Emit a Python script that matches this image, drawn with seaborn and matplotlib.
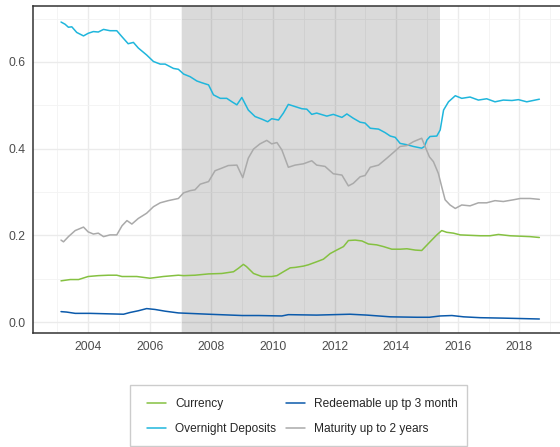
import numpy as np
import pandas as pd
import matplotlib.pyplot as plt
import seaborn as sns
from matplotlib.patches import Rectangle

# shares of monetary aggregate components
series_names = ['Currency', 'Overnight Deposits',
                'Redeemable up tp 3 month', 'Maturity up to 2 years']

overnight_x = [2003.12, 2003.25, 2003.36, 2003.47, 2003.63, 2003.85, 2004.00, 2004.17,
               2004.33, 2004.50, 2004.71, 2004.93, 2005.10, 2005.30, 2005.47, 2005.63,
               2005.90, 2006.12, 2006.34, 2006.50, 2006.77, 2006.93, 2007.10, 2007.31,
               2007.53, 2007.69, 2007.91, 2008.07, 2008.29, 2008.50, 2008.67, 2008.83,
               2008.99, 2009.20, 2009.42, 2009.64, 2009.83, 2009.96, 2010.18, 2010.34,
               2010.50, 2010.72, 2010.94, 2011.10, 2011.26, 2011.42, 2011.75, 2011.96,
               2012.24, 2012.40, 2012.61, 2012.83, 2012.99, 2013.16, 2013.43, 2013.64,
               2013.81, 2013.97, 2014.13, 2014.35, 2014.56, 2014.83, 2014.92, 2015.00,
               2015.10, 2015.32, 2015.43, 2015.54, 2015.70, 2015.92, 2016.13, 2016.40,
               2016.67, 2016.94, 2017.21, 2017.48, 2017.76, 2017.97, 2018.24, 2018.65]
overnight_y = [0.692, 0.687, 0.680, 0.681, 0.668, 0.660, 0.666, 0.670,
               0.669, 0.675, 0.672, 0.672, 0.658, 0.642, 0.645, 0.632,
               0.616, 0.601, 0.595, 0.595, 0.585, 0.583, 0.572, 0.566,
               0.556, 0.552, 0.547, 0.524, 0.516, 0.516, 0.508, 0.501,
               0.518, 0.489, 0.474, 0.468, 0.462, 0.469, 0.466, 0.482,
               0.502, 0.497, 0.492, 0.491, 0.479, 0.482, 0.475, 0.479,
               0.472, 0.480, 0.470, 0.461, 0.459, 0.447, 0.445, 0.437,
               0.429, 0.426, 0.412, 0.409, 0.405, 0.401, 0.405, 0.420,
               0.428, 0.429, 0.443, 0.489, 0.508, 0.522, 0.516, 0.519,
               0.512, 0.515, 0.508, 0.512, 0.511, 0.513, 0.508, 0.514]

maturity_x = [2003.12, 2003.20, 2003.36, 2003.58, 2003.85, 2004.00, 2004.17, 2004.33,
              2004.50, 2004.71, 2004.93, 2005.10, 2005.26, 2005.42, 2005.63, 2005.90,
              2006.12, 2006.34, 2006.60, 2006.93, 2007.10, 2007.31, 2007.47, 2007.64,
              2007.91, 2008.12, 2008.34, 2008.55, 2008.83, 2009.02, 2009.20, 2009.37,
              2009.58, 2009.80, 2009.96, 2010.13, 2010.29, 2010.50, 2010.72, 2010.99,
              2011.26, 2011.42, 2011.69, 2011.96, 2012.24, 2012.45, 2012.61, 2012.83,
              2012.99, 2013.16, 2013.43, 2013.70, 2013.91, 2014.13, 2014.35, 2014.56,
              2014.83, 2014.94, 2015.08, 2015.21, 2015.37, 2015.48, 2015.59, 2015.75,
              2015.92, 2016.13, 2016.40, 2016.67, 2016.94, 2017.21, 2017.48, 2017.81,
              2018.03, 2018.35, 2018.65]
maturity_y = [0.189, 0.185, 0.197, 0.211, 0.219, 0.208, 0.203, 0.205,
              0.197, 0.201, 0.201, 0.222, 0.234, 0.226, 0.239, 0.251,
              0.266, 0.275, 0.280, 0.285, 0.298, 0.303, 0.305, 0.318,
              0.324, 0.349, 0.355, 0.361, 0.362, 0.333, 0.378, 0.399,
              0.411, 0.419, 0.411, 0.414, 0.397, 0.357, 0.362, 0.365,
              0.372, 0.362, 0.359, 0.342, 0.339, 0.314, 0.320, 0.335,
              0.338, 0.357, 0.362, 0.378, 0.391, 0.405, 0.407, 0.416,
              0.424, 0.405, 0.381, 0.370, 0.343, 0.312, 0.282, 0.270,
              0.262, 0.270, 0.268, 0.275, 0.275, 0.280, 0.278, 0.282,
              0.285, 0.285, 0.283]

currency_x = [2003.12, 2003.42, 2003.69, 2004.00, 2004.33, 2004.66, 2004.93, 2005.10,
              2005.58, 2006.01, 2006.44, 2006.93, 2007.10, 2007.47, 2007.91, 2008.34,
              2008.72, 2008.88, 2009.04, 2009.14, 2009.37, 2009.64, 2009.96, 2010.13,
              2010.34, 2010.56, 2010.72, 2010.99, 2011.15, 2011.42, 2011.64, 2011.86,
              2012.07, 2012.29, 2012.45, 2012.67, 2012.89, 2013.10, 2013.37, 2013.59,
              2013.86, 2014.13, 2014.35, 2014.62, 2014.83, 2015.10, 2015.32, 2015.48,
              2015.64, 2015.86, 2016.08, 2016.40, 2016.73, 2017.05, 2017.32, 2017.70,
              2018.03, 2018.35, 2018.65]
currency_y = [0.095, 0.098, 0.098, 0.105, 0.107, 0.108, 0.108, 0.105,
              0.105, 0.101, 0.105, 0.108, 0.107, 0.108, 0.111, 0.112,
              0.116, 0.124, 0.133, 0.128, 0.112, 0.105, 0.105, 0.107,
              0.116, 0.125, 0.126, 0.129, 0.132, 0.139, 0.145, 0.158,
              0.166, 0.174, 0.188, 0.189, 0.187, 0.180, 0.178, 0.174,
              0.168, 0.168, 0.169, 0.166, 0.165, 0.185, 0.201, 0.211,
              0.207, 0.205, 0.201, 0.200, 0.199, 0.199, 0.202, 0.199,
              0.198, 0.197, 0.195]

redeem_x = [2003.12, 2003.30, 2003.58, 2004.06, 2004.60, 2005.15, 2005.36, 2005.63,
            2005.90, 2006.17, 2006.50, 2006.93, 2007.91, 2009.00, 2009.53, 2010.29,
            2010.50, 2011.42, 2012.50, 2013.05, 2013.81, 2014.67, 2015.08, 2015.43,
            2015.81, 2016.19, 2016.73, 2017.48, 2018.65]
redeem_y = [0.024, 0.023, 0.020, 0.020, 0.019, 0.018, 0.022, 0.026,
            0.031, 0.029, 0.025, 0.021, 0.018, 0.015, 0.015, 0.014,
            0.017, 0.016, 0.018, 0.016, 0.012, 0.011, 0.011, 0.014,
            0.015, 0.012, 0.010, 0.009, 0.007]

# shaded period
shade_start, shade_end = 2007.06, 2015.43

colors = ['#85c141', '#1fb6dc', '#0b5aab', '#aaaaaa']

frames = []
for name, xs, ys in zip(series_names,
                        [currency_x, overnight_x, redeem_x, maturity_x],
                        [currency_y, overnight_y, redeem_y, maturity_y]):
    frames.append(pd.DataFrame({'year': xs, 'share': ys, 'series': name}))
df = pd.concat(frames, ignore_index=True)

sns.set_style('white')
plt.rcParams['font.family'] = ['Liberation Sans', 'DejaVu Sans']

W, H = 560, 447
fig = plt.figure(figsize=(W / 100, H / 100), dpi=100)
ax = fig.add_axes([33 / W, 1 - 333.3 / H, (564 - 33) / W, (333.3 - 6) / H])

ax.axvspan(shade_start, shade_end, color='black', alpha=0.145, lw=0, zorder=1)

sns.lineplot(data=df, x='year', y='share', hue='series', hue_order=series_names,
             palette=colors, estimator=None, linewidth=1.1, ax=ax, zorder=3)

ax.set_xlim(2002.21, 2019.45)
ax.set_ylim(-0.026, 0.729)
ax.set_xticks(np.arange(2004, 2019, 2))
ax.set_xticks(np.arange(2003, 2020, 2), minor=True)
ax.set_yticks([0.0, 0.2, 0.4, 0.6])
ax.set_yticks([0.1, 0.3, 0.5, 0.7], minor=True)
ax.set_yticklabels(['0.0', '0.2', '0.4', '0.6'])
ax.set_axisbelow(True)
ax.grid(which='major', color='#ebebeb', lw=1.0)
ax.grid(which='minor', color='#f3f3f3', lw=0.6)
ax.set_xlabel('')
ax.set_ylabel('')

for side in ['top', 'left', 'bottom']:
    ax.spines[side].set_color('#333333')
    ax.spines[side].set_linewidth(1.1)
ax.spines['right'].set_visible(False)
ax.tick_params(which='major', length=3, width=0.8, color='#333333',
               labelcolor='#4d4d4d', labelsize=8.8, pad=2.5)
ax.tick_params(which='minor', length=0)

handles, labels = ax.get_legend_handles_labels()
ax.get_legend().remove()
for h in handles:
    h.set_linewidth(1.1)

# legend box drawn by hand so the padding matches the reference
fig.patches.append(Rectangle((130 / W, 1 - 445.7 / H), 336.7 / W, 60.7 / H,
                             transform=fig.transFigure, facecolor='white',
                             edgecolor='#cccccc', lw=1.0, zorder=0))
fig.legend(handles, labels, ncol=2, loc='upper left',
           bbox_to_anchor=(146.7 / W, 1 - 398.5 / H),
           frameon=False, fontsize=8.6, borderpad=0, borderaxespad=0,
           handlelength=1.6, handletextpad=0.78, columnspacing=0.8,
           labelspacing=1.05)

plt.savefig('out.png', dpi=100)
